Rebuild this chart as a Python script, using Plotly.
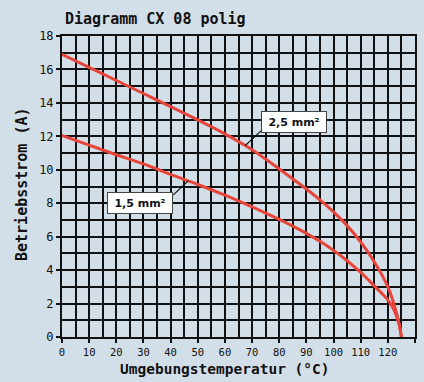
import plotly.graph_objects as go

# Data
temp_15 = [0, 10, 20, 30, 40, 50, 60, 70, 80, 85, 90, 95, 100, 105, 110, 115, 120, 122.2, 124, 125]
curr_15 = [12.05, 11.47, 10.9, 10.35, 9.72, 9.12, 8.48, 7.78, 7.03, 6.63, 6.2, 5.72, 5.18, 4.56, 3.86, 3.06, 2.22, 1.64, 0.84, 0.0]

temp_25 = [0, 10, 20, 30, 40, 50, 60, 70, 80, 85, 90, 95, 100, 105, 110, 115, 120, 122.5, 124.1, 125]
curr_25 = [16.9, 16.12, 15.34, 14.56, 13.78, 12.98, 12.15, 11.2, 10.05, 9.45, 8.85, 8.2, 7.48, 6.66, 5.68, 4.5, 3.0, 1.84, 0.84, 0.0]

series_names = ["1,5 mm²", "2,5 mm²"]
x_ticks = [0, 10, 20, 30, 40, 50, 60, 70, 80, 90, 100, 110, 120, 130]
y_ticks = [0, 2, 4, 6, 8, 10, 12, 14, 16, 18]

title_text = "Diagramm CX 08 polig"
x_title = "Umgebungstemperatur (°C)"
y_title = "Betriebsstrom (A)"

BG = "#d3dfe8"
RED = "#e8453a"
INK = "#111111"
MONO = "DejaVu Sans Mono"
SANS = "DejaVu Sans"

fig = go.Figure()
fig.add_trace(go.Scatter(x=temp_15, y=curr_15, mode="lines", name=series_names[0],
                         line=dict(color=RED, width=3, shape="spline", smoothing=1.0)))
fig.add_trace(go.Scatter(x=temp_25, y=curr_25, mode="lines", name=series_names[1],
                         line=dict(color=RED, width=3, shape="spline", smoothing=1.0)))

# Leader lines from label boxes to curves
fig.add_shape(type="line", x0=41.0, y0=8.5, x1=46.6, y1=9.35, line=dict(color=INK, width=1.2))
fig.add_shape(type="line", x0=73.4, y0=12.34, x1=67.5, y1=11.45, line=dict(color=INK, width=1.2))

label_style = dict(showarrow=False, font=dict(family=SANS, size=11, color=INK), bgcolor="white",
                   bordercolor="#444", borderwidth=1, borderpad=3, width=58, height=14)
fig.add_annotation(x=28.8, y=8.0, text="<b>%s</b>" % series_names[0], **label_style)
fig.add_annotation(x=85.5, y=12.87, text="<b>%s</b>" % series_names[1], **label_style)

# Axis titles
fig.add_annotation(xref="paper", yref="paper", x=(225 - 62) / 353, y=(337 - 369) / 301,
                   text="<b>%s</b>" % x_title, showarrow=False, xanchor="center", yanchor="middle",
                   font=dict(family=MONO, size=14.5, color=INK))
fig.add_annotation(xref="paper", yref="paper", x=(22 - 62) / 353, y=(337 - 184) / 301,
                   text="<b>%s</b>" % y_title, showarrow=False, xanchor="center", yanchor="middle",
                   textangle=-90, font=dict(family=MONO, size=15, color=INK))

fig.update_layout(
    width=424, height=382,
    paper_bgcolor=BG, plot_bgcolor=BG,
    margin=dict(l=62, r=9, t=36, b=45),
    showlegend=False,
    title=dict(text="<b>%s</b>" % title_text, font=dict(family=MONO, size=15, color=INK),
               xref="container", x=65 / 424, xanchor="left", yref="container", y=1 - 19 / 382, yanchor="middle"),
    xaxis=dict(range=[0, 130], tickvals=x_ticks, ticktext=[str(v) for v in x_ticks], automargin=False,
               tickfont=dict(family=MONO, size=10.5, color=INK),
               ticks="outside", ticklen=4, tickwidth=1.5, tickcolor=INK,
               showline=True, linecolor=INK, linewidth=2, mirror=True,
               showgrid=True, gridcolor=INK, gridwidth=2, zeroline=False,
               minor=dict(dtick=5, tick0=0, showgrid=True, gridcolor=INK, gridwidth=1.5)),
    yaxis=dict(range=[0, 18], tickvals=y_ticks, ticktext=[str(v) for v in y_ticks], automargin=False,
               tickfont=dict(family=MONO, size=12, color=INK),
               ticks="outside", ticklen=4, tickwidth=1.5, tickcolor=INK,
               showline=True, linecolor=INK, linewidth=2, mirror=True,
               showgrid=True, gridcolor=INK, gridwidth=2, zeroline=False,
               minor=dict(dtick=1, tick0=0, showgrid=True, gridcolor=INK, gridwidth=1.5)),
)

fig.write_html("out.html", config={"displayModeBar": False},
               post_script="document.body.style.margin='0';document.body.style.overflow='hidden';")
